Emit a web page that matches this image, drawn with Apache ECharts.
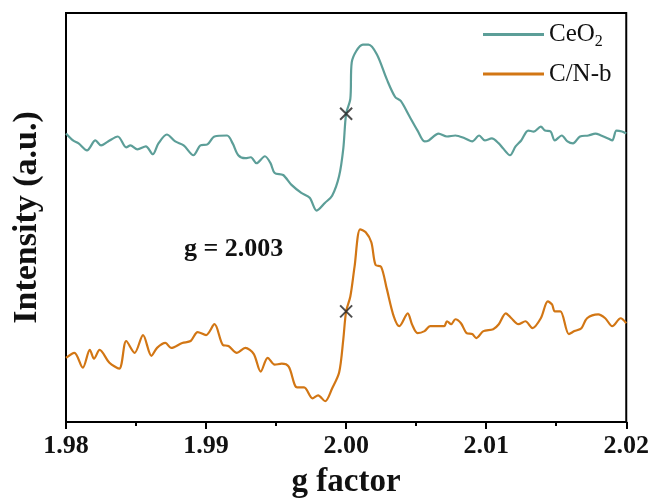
<!DOCTYPE html>
<html>
<head>
<meta charset="utf-8">
<script src="https://cdn.jsdelivr.net/npm/echarts@6/dist/echarts.min.js"></script>
<style>html,body{margin:0;padding:0;background:#fff;}#c{width:652px;height:504px;}</style>
</head>
<body>
<div id="c"></div>
<script>
// g factor values and intensity (arbitrary units)
const ceo2G = [1.9800,1.9805,1.9809,1.9815,1.9821,1.9825,1.9830,1.9837,1.9843,1.9846,1.9851,1.9857,1.9862,1.9866,1.9872,1.9878,1.9884,1.9891,1.9896,1.9901,1.9906,1.9915,1.9919,1.9923,1.9928,1.9932,1.9936,1.9942,1.9946,1.9949,1.9955,1.9961,1.9968,1.9974,1.9979,1.9985,1.9990,1.9995,1.9998,2.0000,2.0003,2.0004,2.0012,2.0016,2.0022,2.0029,2.0035,2.0039,2.0045,2.0051,2.0056,2.0059,2.0066,2.0072,2.0078,2.0085,2.0090,2.0095,2.0099,2.0104,2.0109,2.0112,2.0117,2.0121,2.0125,2.0130,2.0134,2.0139,2.0142,2.0146,2.0149,2.0154,2.0158,2.0162,2.0167,2.0173,2.0178,2.0182,2.0187,2.0190,2.0193,2.0197,2.0200];
const ceo2I = [292,285,282,275,285,280,284,289,278,280,276,279,271,282,291,284,280,270,280,281,289,290,282,270,267,268,262,269,262,252,250,240,232,227,214,222,229,249,277,312,327,364,382,382,372,347,329,325,310,295,284,285,292,289,290,287,284,290,285,287,282,277,270,279,285,295,294,299,295,294,285,290,284,282,289,290,292,290,287,285,295,294,292];
const cnbG = [1.9800,1.9806,1.9812,1.9817,1.9820,1.9824,1.9831,1.9838,1.9843,1.9849,1.9855,1.9861,1.9865,1.9871,1.9875,1.9883,1.9889,1.9894,1.9900,1.9906,1.9912,1.9916,1.9922,1.9928,1.9934,1.9939,1.9944,1.9949,1.9954,1.9959,1.9965,1.9970,1.9976,1.9980,1.9985,1.9990,1.9995,1.9998,2.0000,2.0003,2.0006,2.0010,2.0014,2.0018,2.0021,2.0025,2.0029,2.0034,2.0038,2.0044,2.0047,2.0051,2.0056,2.0060,2.0070,2.0072,2.0075,2.0078,2.0082,2.0086,2.0090,2.0093,2.0098,2.0105,2.0109,2.0114,2.0118,2.0123,2.0128,2.0133,2.0139,2.0144,2.0147,2.0149,2.0153,2.0159,2.0163,2.0168,2.0172,2.0180,2.0185,2.0190,2.0196,2.0200];
const cnbI = [65,70,55,73,64,73,60,54,82,70,88,67,75,80,75,80,82,91,88,99,78,77,70,75,69,51,65,58,59,56,35,35,24,27,21,34,50,84,112,127,157,195,192,182,159,157,135,107,97,110,99,90,92,97,97,102,99,104,100,90,89,85,92,94,99,110,105,99,102,95,105,122,119,112,112,89,92,95,105,109,105,97,105,100];
const markG = [2.000, 2.000];
const markI = [312, 112];
const xTicks = [1.98, 1.99, 2.00, 2.01, 2.02];

const font = 'Liberation Serif';
const chart = echarts.init(document.getElementById('c'));
chart.setOption({
  animation: false,
  backgroundColor: '#fff',
  grid: {left: 66, right: 24, top: 13, bottom: 77, show: true, borderColor: '#000', borderWidth: 2},
  xAxis: {
    type: 'value', min: 1.98, max: 2.02, interval: 0.01,
    name: 'g factor', nameLocation: 'middle', nameGap: 44,
    nameTextStyle: {fontFamily: font, fontWeight: 'bold', fontSize: 33, color: '#111'},
    axisLine: {show: true, lineStyle: {color: '#000', width: 2}},
    axisTick: {show: true, inside: false, length: 7, lineStyle: {color: '#000', width: 2}},
    minorTick: {show: true, splitNumber: 2, length: 4, lineStyle: {color: '#000', width: 2}},
    splitLine: {show: false},
    axisLabel: {fontFamily: font, fontWeight: 'bold', fontSize: 26, color: '#111', margin: 11,
      formatter: v => { const t = xTicks.find(x => Math.abs(x - v) < 1e-6); return t === undefined ? '' : t.toFixed(2); }}
  },
  yAxis: {
    type: 'value', min: 0, max: 414,
    name: 'Intensity (a.u.)', nameLocation: 'middle', nameGap: 22,
    nameTextStyle: {fontFamily: font, fontWeight: 'bold', fontSize: 34, color: '#111'},
    axisLine: {show: true, lineStyle: {color: '#000', width: 2}},
    axisTick: {show: false}, axisLabel: {show: false}, splitLine: {show: false}
  },
  legend: {
    orient: 'vertical', left: 478, top: 17, itemGap: 12,
    itemWidth: 61, itemHeight: 3, icon: 'rect',
    data: ['CeO2', 'C/N-b'],
    formatter: n => n === 'CeO2' ? '{a|CeO}{s|2}' : '{a|C/N-b}',
    textStyle: {fontFamily: font, fontSize: 25, color: '#111',
      rich: {a: {fontFamily: font, fontSize: 25, color: '#111'}, s: {fontFamily: font, fontSize: 16, color: '#111', verticalAlign: 'bottom', padding: [14, 0, 0, 0]}}}
  },
  graphic: [{
    type: 'text', left: 184, top: 236,
    style: {text: 'g = 2.003', font: 'bold 26px "Liberation Serif"', fill: '#111'}
  }],
  series: [
    {name: 'CeO2', type: 'line', data: ceo2G.map((g, i) => [g, ceo2I[i]]), showSymbol: false, smooth: 0.3,
      lineStyle: {color: '#5C9E98', width: 2.2}, itemStyle: {color: '#5C9E98'}},
    {name: 'C/N-b', type: 'line', data: cnbG.map((g, i) => [g, cnbI[i]]), showSymbol: false, smooth: 0.3,
      lineStyle: {color: '#D27614', width: 2.2}, itemStyle: {color: '#D27614'}},
    {name: 'mark', type: 'scatter', data: markG.map((g, i) => [g, markI[i]]), symbol: 'path://M0 0L10 10M10 0L0 10', symbolSize: 12,
      itemStyle: {color: 'none', borderColor: '#222', borderWidth: 2}, z: 5}
  ]
});
</script>
</body>
</html>
